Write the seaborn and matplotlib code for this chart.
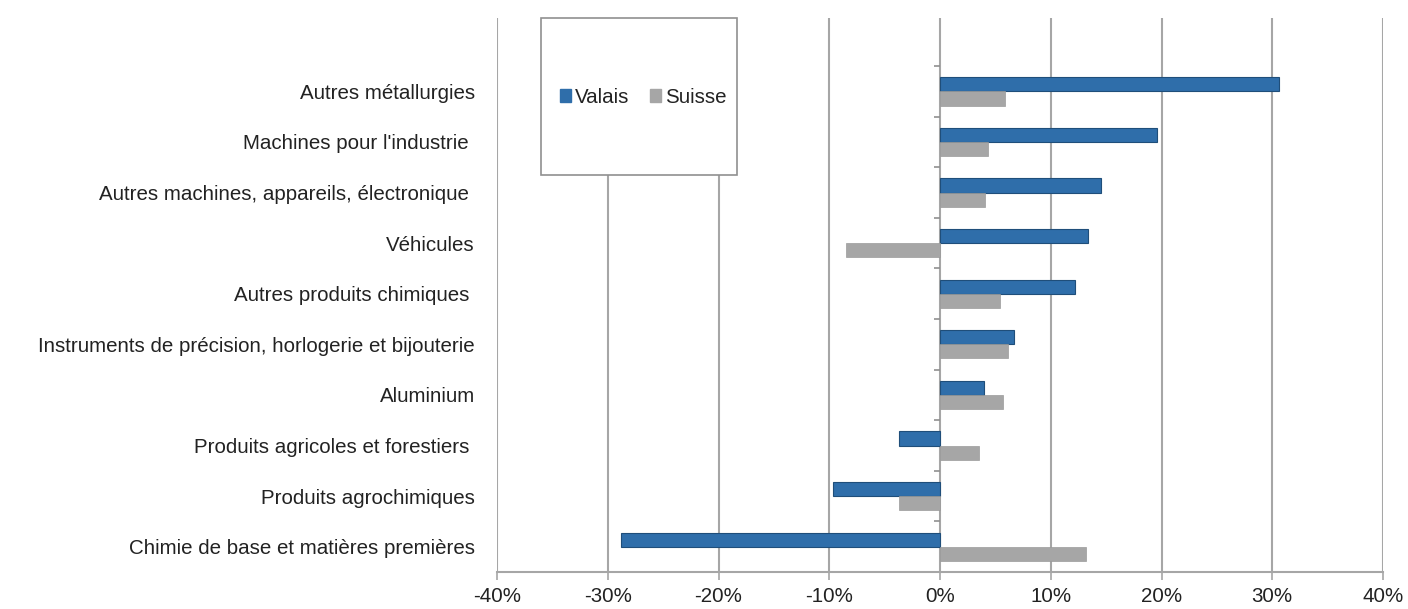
import matplotlib
matplotlib.use("Agg")
import matplotlib.pyplot as plt
import seaborn as sns
import pandas as pd
from matplotlib.patches import Rectangle, Patch
from matplotlib.ticker import FuncFormatter, MultipleLocator

categories = [
    "Autres métallurgies",
    "Machines pour l'industrie ",
    "Autres machines, appareils, électronique ",
    "Véhicules",
    "Autres produits chimiques ",
    "Instruments de précision, horlogerie et bijouterie",
    "Aluminium",
    "Produits agricoles et forestiers ",
    "Produits agrochimiques",
    "Chimie de base et matières premières",
]
valais = [30.6, 19.6, 14.5, 13.4, 12.2, 6.7, 4.0, -3.7, -9.7, -28.8]
suisse = [5.9, 4.3, 4.1, -8.5, 5.4, 6.1, 5.7, 3.5, -3.7, 13.2]
series = ["Valais", "Suisse"]

df = pd.DataFrame({
    "cat": categories * 2,
    "val": valais + suisse,
    "serie": [series[0]] * len(categories) + [series[1]] * len(categories),
})

sns.set_style("white")
plt.rcParams["font.family"] = ["Liberation Sans", "DejaVu Sans"]
FS = 14.8

fig = plt.figure(figsize=(14.08, 6.09), dpi=100)
ax = fig.add_axes([497 / 1408, 1 - 572 / 609, 886 / 1408, 554 / 609])

palette = {"Valais": "#2F6EAA", "Suisse": "#A6A6A6"}
sns.barplot(data=df, x="val", y="cat", hue="serie", hue_order=series,
            order=categories, orient="h", palette=palette, width=0.56,
            saturation=1, ax=ax, legend=False, zorder=3)
for p in ax.patches:
    fc = p.get_facecolor()
    if abs(fc[0] - 0x2F / 255) < 0.02:
        p.set_edgecolor("#1F4E7A")
        p.set_linewidth(0.8)
    else:
        p.set_edgecolor("#9A9A9A")
        p.set_linewidth(0.5)

ax.set_xlim(-40, 40)
ax.set_ylim(len(categories) - 0.5, -1.45)
ax.xaxis.set_major_locator(MultipleLocator(10))
ax.xaxis.set_major_formatter(FuncFormatter(lambda v, p: f"{int(round(v))}%"))
ax.grid(axis="x", color="#A6A6A6", linewidth=1.5, zorder=0)
ax.grid(axis="y", visible=False)
ax.set_axisbelow(True)
for s in ["top", "right", "left"]:
    ax.spines[s].set_visible(False)
ax.spines["bottom"].set_color("#A6A6A6")
ax.spines["bottom"].set_linewidth(1.5)
ax.tick_params(axis="x", bottom=True, length=6, width=1.2, color="#A6A6A6",
               labelsize=FS, labelcolor="#222222", pad=5)
ax.tick_params(axis="y", left=False, length=0, labelsize=FS,
               labelcolor="#222222", pad=16)
ax.set_xlabel("")
ax.set_ylabel("")

# small category boundary ticks on the zero axis
bounds = [i + 0.5 for i in range(-1, len(categories) - 1)]
ax.hlines(bounds, -0.5, 0, color="#909090", linewidth=1.2, zorder=4)

# legend box
box = Rectangle((44 / 886, (572 - 175) / 554), 196 / 886, 157 / 554,
                transform=ax.transAxes, facecolor="white", edgecolor="#909090",
                linewidth=1.2, zorder=5, clip_on=False)
ax.add_patch(box)
handles = [Patch(facecolor=palette[s], edgecolor=palette[s]) for s in series]
leg = ax.legend(handles, series, loc="center", bbox_to_anchor=(0.165, 0.857),
                ncol=2, frameon=False, fontsize=FS, handlelength=0.55,
                handleheight=0.55, handletextpad=0.2, columnspacing=1.0)
leg.set_zorder(6)
for t in leg.get_texts():
    t.set_color("#222222")

fig.savefig("out.png", dpi=100)
